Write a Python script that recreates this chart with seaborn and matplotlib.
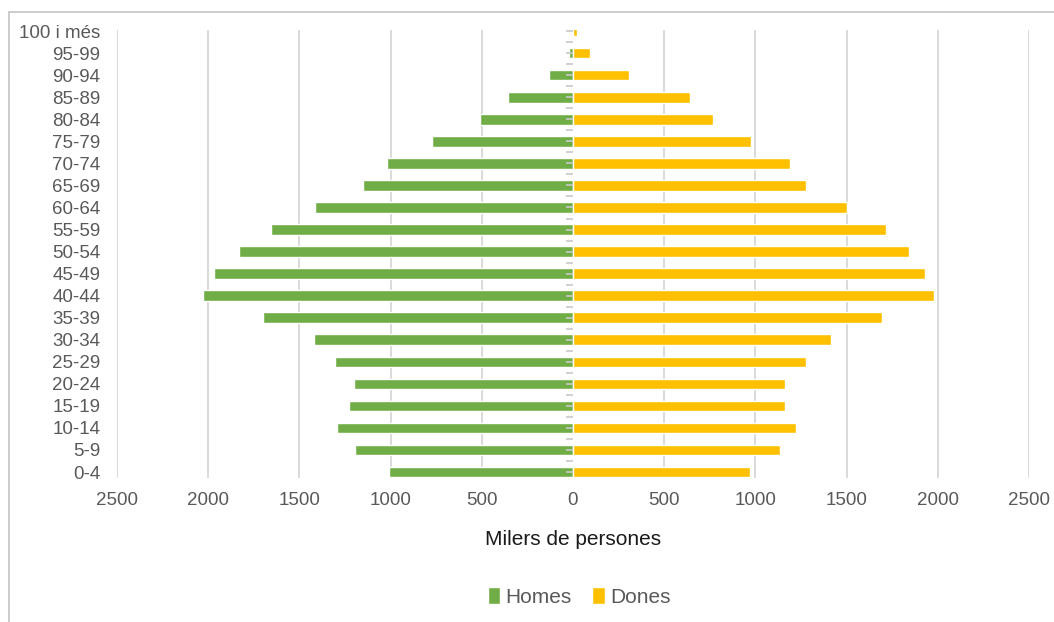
import matplotlib
matplotlib.use("Agg")
import matplotlib.pyplot as plt
from matplotlib.patches import Patch
from matplotlib.lines import Line2D
from matplotlib.ticker import FuncFormatter
import numpy as np
import pandas as pd
import seaborn as sns

# Age groups from youngest to oldest
ages = ["0-4", "5-9", "10-14", "15-19", "20-24", "25-29", "30-34", "35-39",
        "40-44", "45-49", "50-54", "55-59", "60-64", "65-69", "70-74",
        "75-79", "80-84", "85-89", "90-94", "95-99", "100 i més"]
# Population in thousands
homes = [1009, 1194, 1295, 1228, 1202, 1304, 1421, 1699, 2026, 1966, 1832,
         1657, 1413, 1154, 1019, 775, 508, 356, 129, 20, 5]
dones = [968, 1134, 1225, 1160, 1160, 1275, 1417, 1695, 1978, 1928, 1844,
         1718, 1501, 1275, 1192, 975, 765, 643, 307, 91, 20]
xticks = [-2500, -2000, -1500, -1000, -500, 0, 500, 1000, 1500, 2000, 2500]

GREEN = "#70AD47"
ORANGE = "#FFC000"
GRAY_TXT = "#595959"

sns.set_theme(style="white")
plt.rcParams["font.family"] = ["Liberation Sans", "DejaVu Sans"]

df = pd.DataFrame({"edat": ages, "homes": homes, "dones": dones})
order = ages[::-1]  # oldest at the top

fig = plt.figure(figsize=(10.54, 6.22), dpi=100)
ax = fig.add_axes([117 / 1054, 1 - 478 / 622, (1029 - 117) / 1054, (478 - 30) / 622])

ax.set_axisbelow(True)
for v in xticks:
    if v != 0:
        ax.axvline(v, color="#d9d9d9", lw=1.4, zorder=0)

sns.barplot(data=df, x=-df["homes"], y="edat", order=order, orient="h",
            color=GREEN, saturation=1, width=0.48, ax=ax, zorder=2)
sns.barplot(data=df, x="dones", y="edat", order=order, orient="h",
            color=ORANGE, saturation=1, width=0.48, ax=ax, zorder=2)

ax.set_xlim(-2500, 2500)
ax.set_ylim(len(ages) - 1 + 0.27, -0.05)

ax.set_xticks(xticks)
ax.xaxis.set_major_formatter(FuncFormatter(lambda v, p: f"{abs(int(v))}"))
ax.tick_params(axis="x", length=0, pad=10, labelsize=13.5, labelcolor=GRAY_TXT)
ax.tick_params(axis="y", length=0, pad=12, labelsize=13.5, labelcolor=GRAY_TXT)
ax.set_ylabel("")
ax.set_xlabel("Milers de persones", fontsize=15, color="#1a1a1a", labelpad=15)
for s in ax.spines.values():
    s.set_visible(False)

# Central category axis with small tick marks
sec = ax.secondary_yaxis(0.5)
sec.set_zorder(5)
sec.set_yticks(np.arange(0, len(ages) - 0.4, 0.5))
sec.set_yticklabels([])
sec.tick_params(axis="y", length=5, width=1.2, color="#c8c8c8", direction="in")
sec.spines["left"].set_color("#c8c8c8")
sec.spines["left"].set_linewidth(1.3)
for name in ("right", "top", "bottom"):
    sec.spines[name].set_visible(False)

handles = [Patch(facecolor=GREEN, label="Homes"), Patch(facecolor=ORANGE, label="Dones")]
fig.legend(handles=handles, loc="center", bbox_to_anchor=(579 / 1054, 1 - 597 / 622),
           ncol=2, frameon=False, fontsize=15, handlelength=0.6, handleheight=0.9,
           handletextpad=0.25, columnspacing=1.0, labelcolor=GRAY_TXT)

# Outer frame (top and left edges)
fig.add_artist(Line2D([8.5 / 1054, 1.0], [1 - 12 / 622, 1 - 12 / 622],
                      transform=fig.transFigure, color="#c8c8c8", lw=1.3))
fig.add_artist(Line2D([8.5 / 1054, 8.5 / 1054], [1 - 12 / 622, 0.0],
                      transform=fig.transFigure, color="#c8c8c8", lw=1.3))

fig.savefig("out.png", dpi=100, facecolor="white")
